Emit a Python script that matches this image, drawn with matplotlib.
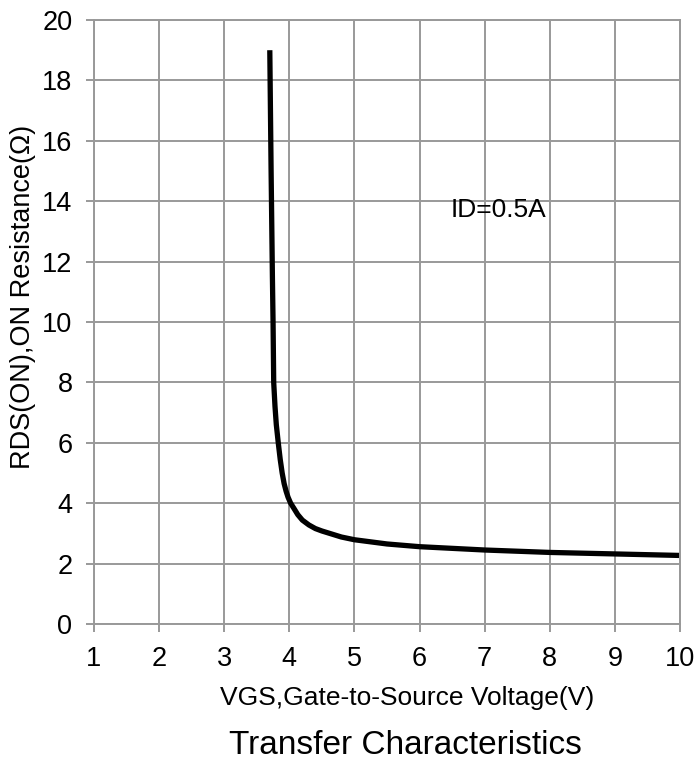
import numpy as np
import matplotlib.pyplot as plt

plt.rcParams['font.family'] = ['Liberation Sans', 'DejaVu Sans']

# curve
vgs = [3.70, 3.72, 3.74, 3.75, 3.76, 3.78, 3.80, 3.83, 3.86, 3.89, 3.92,
       3.95, 3.98, 4.02, 4.07, 4.13, 4.2, 4.3, 4.4, 4.5, 4.62, 4.8, 5.0,
       5.5, 6.0, 7.0, 8.0, 9.0, 10.0]
rds = [19.0, 15.0, 11.5, 10.0, 8.0, 7.2, 6.6, 6.0, 5.45, 5.0, 4.65,
       4.4, 4.2, 4.0, 3.83, 3.62, 3.44, 3.28, 3.16, 3.08, 3.0, 2.88, 2.79,
       2.65, 2.56, 2.45, 2.37, 2.32, 2.27]
xticks = list(range(1, 11))
yticks = list(range(0, 21, 2))

fig = plt.figure(figsize=(6.96, 7.61), dpi=100)
ax = fig.add_axes([94 / 696, 137 / 761, 586 / 696, 604 / 761])

ax.plot(vgs, rds, color='black', lw=3.8, solid_capstyle='butt',
        solid_joinstyle='round')

ax.set_xlim(1, 10)
ax.set_ylim(0, 20)
ax.set_xticks(xticks)
ax.set_yticks(yticks)
ax.grid(True, color='#999999', lw=1.4)
ax.set_axisbelow(True)
for s in ax.spines.values():
    s.set_color('#999999')
    s.set_linewidth(1.4)
ax.tick_params(colors='#999999', width=1.4, length=6, labelsize=19.5,
               labelcolor='black', pad=9.5)

ax.set_xlabel('VGS,Gate-to-Source Voltage(V)', fontsize=19, va='center')
ax.xaxis.set_label_coords(0.535, -0.1225)
ax.set_ylabel('RDS(ON),ON Resistance(Ω)', fontsize=19.5, va='center')
ax.yaxis.set_label_coords(-0.122, 0.542)
ax.text(6.47, 13.48, 'ID=0.5A', fontsize=19, va='baseline', ha='left')
fig.text(405.5 / 696, 1 - 745 / 761, 'Transfer Characteristics',
         fontsize=24, ha='center', va='center')

fig.savefig('out.png', dpi=100)
